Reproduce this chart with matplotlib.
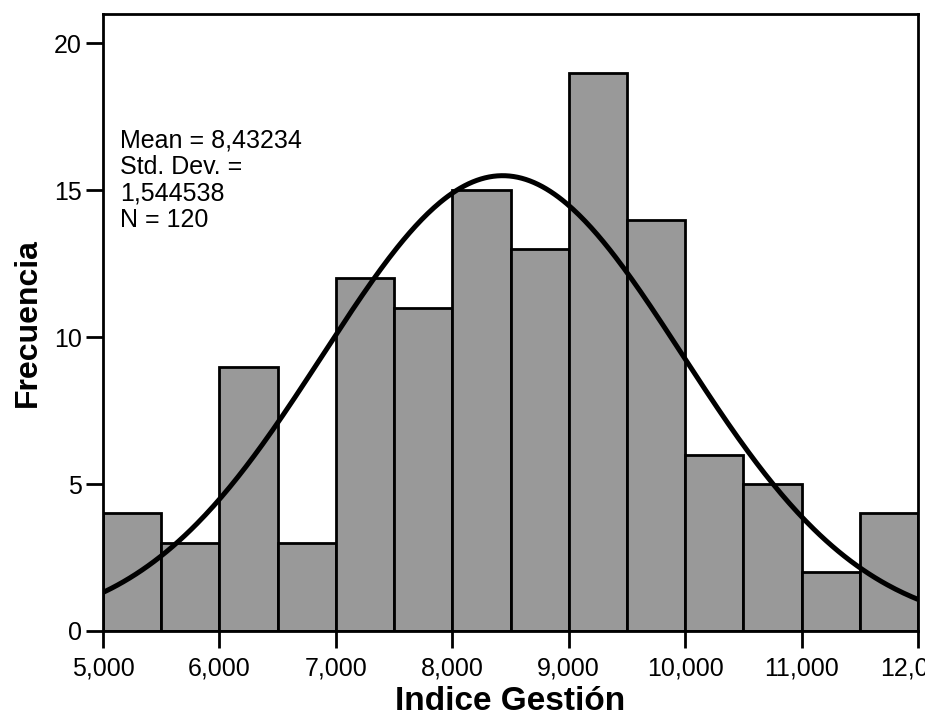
import numpy as np
import matplotlib
matplotlib.use("Agg")
import matplotlib.pyplot as plt

plt.rcParams['font.family'] = ['Liberation Sans', 'DejaVu Sans']

# Histogram of Indice Gestión, bins of width 0.5
bin_edges = [5.0, 5.5, 6.0, 6.5, 7.0, 7.5, 8.0, 8.5, 9.0, 9.5, 10.0, 10.5, 11.0, 11.5, 12.0]
counts = [4, 3, 9, 3, 12, 11, 15, 13, 19, 14, 6, 5, 2, 4]
mean = 8.43234
std = 1.544538
n = 120
x_ticks = [5, 6, 7, 8, 9, 10, 11, 12]
x_tick_labels = ["5,000", "6,000", "7,000", "8,000", "9,000", "10,000", "11,000", "12,000"]
y_ticks = [0, 5, 10, 15, 20]

fig = plt.figure(figsize=(9.25, 7.19), dpi=100)
ax = fig.add_axes([0.1114, 0.1224, 0.8810, 0.8581])

edges = np.array(bin_edges)
widths = np.diff(edges)
ax.bar(edges[:-1], counts, width=widths, align='edge', color='#999999',
       edgecolor='black', linewidth=2.0, zorder=2)

# Fitted normal curve scaled to counts
xs = np.linspace(edges[0], edges[-1], 400)
bw = widths[0]
ys = n * bw / (std * np.sqrt(2 * np.pi)) * np.exp(-0.5 * ((xs - mean) / std) ** 2)
ax.plot(xs, ys, color='black', linewidth=3.6, zorder=3, solid_capstyle='butt')

ax.set_xlim(5, 12)
ax.set_ylim(0, 21)
ax.set_xticks(x_ticks)
ax.set_xticklabels(x_tick_labels)
ax.set_yticks(y_ticks)

for s in ax.spines.values():
    s.set_linewidth(2.0)
    s.set_zorder(4)

ax.tick_params(axis='x', direction='out', length=12.5, width=2, labelsize=18, pad=6)
ax.tick_params(axis='y', direction='out', length=12.5, width=2, labelsize=18, pad=3)

ax.set_xlabel('Indice Gestión', fontsize=24, fontweight='bold', labelpad=4)
ax.set_ylabel('Frecuencia', fontsize=23, fontweight='bold', labelpad=8)

ax.text(0.021, 0.815, "Mean = 8,43234\nStd. Dev. =\n1,544538\nN = 120",
        transform=ax.transAxes, fontsize=18, va='top', ha='left',
        linespacing=1.13, zorder=5)

fig.savefig('out.png', dpi=100)
